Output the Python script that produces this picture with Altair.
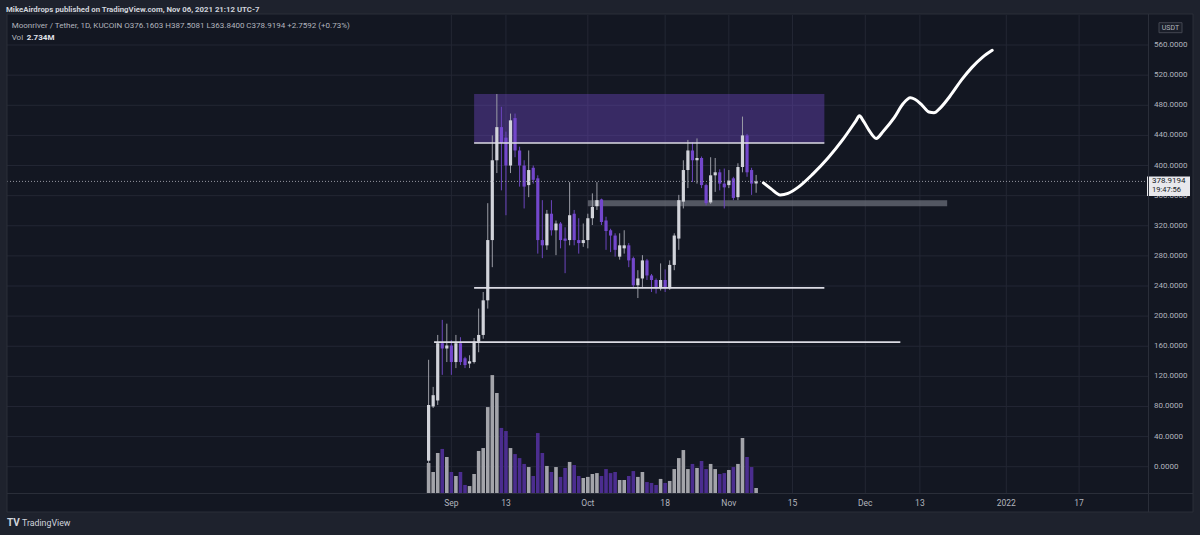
import altair as alt
import pandas as pd

# ---------------- data ----------------
# day index 0 = 2021-08-27, one candle per day up to 2021-11-07
opens = [8, 80, 88, 164, 157, 161, 139, 164, 144, 137,
         139, 166, 175, 221, 301, 407, 451, 437, 400, 463,
         420, 400, 374, 397, 383, 301, 294, 336, 314, 323,
         303, 301, 336, 301, 297, 301, 330, 346, 355, 327,
         314, 307, 279, 290, 294, 277, 241, 250, 274, 254,
         248, 237, 248, 237, 268, 303, 352, 394, 420, 407,
         410, 374, 351, 387, 391, 376, 374, 383, 358, 398,
         440, 394, 376.1603]
highs = [142, 106, 175, 195, 190, 168, 175, 172, 146, 148,
         171, 210, 232, 350, 440, 495, 478, 445, 469, 469,
         425, 407, 420, 400, 387, 354, 341, 354, 327, 325,
         318, 378, 341, 330, 323, 336, 363, 378, 356, 332,
         316, 310, 310, 314, 297, 279, 261, 281, 276, 256,
         250, 270, 262, 274, 310, 361, 407, 434, 431, 436,
         412, 376, 411, 410, 395, 396, 394, 385, 403, 465,
         442, 397, 387.5081]
lows = [5, 78, 82, 122, 139, 122, 131, 135, 131, 131,
        137, 152, 170, 210, 265, 390, 367, 334, 390, 411,
        372, 343, 358, 376, 283, 277, 288, 307, 281, 290,
        257, 294, 294, 283, 292, 290, 321, 341, 321, 288,
        285, 279, 275, 283, 265, 237, 224, 237, 248, 232,
        230, 234, 232, 235, 261, 288, 343, 370, 378, 376,
        370, 347, 349, 365, 367, 343, 370, 354, 354, 391,
        385, 361, 363.84]
closes = [82, 95, 164, 157, 161, 139, 164, 139, 135, 140,
          166, 175, 221, 301, 407, 451, 430, 400, 460, 420,
          400, 372, 394, 381, 301, 294, 336, 314, 323, 301,
          300, 334, 301, 297, 301, 330, 345, 354, 325, 313,
          307, 288, 294, 294, 274, 241, 250, 274, 254, 248,
          237, 248, 237, 268, 307, 354, 394, 420, 407, 410,
          374, 350, 387, 391, 376, 371, 380, 357, 398, 440,
          391, 376, 378.9194]
volumes_m = [16.4, 11.5, 21.9, 24.1, 19.7, 11.5, 9.3, 11.5, 4.4, 3.8,
             10.4, 23.0, 24.6, 47.0, 64.5, 54.7, 35.6, 33.9, 24.6, 21.3,
             19.1, 15.9, 14.2, 9.3, 32.8, 21.9, 14.8, 11.5, 14.2, 8.8,
             13.7, 17.0, 15.3, 9.3, 8.2, 8.8, 10.4, 10.9, 9.3, 13.1,
             10.9, 11.5, 7.1, 7.1, 9.3, 12.0, 8.8, 11.5, 6.0, 5.5,
             4.4, 7.7, 5.5, 6.6, 13.1, 19.1, 23.5, 13.1, 15.9, 13.7,
             17.5, 13.1, 15.9, 13.1, 10.4, 10.9, 12.6, 14.2, 15.9, 30.1,
             19.7, 14.2, 2.734]

tick_days = [5, 17, 35, 52, 66, 80, 96, 108, 127, 143]
tick_labels = ["Sep", "13", "Oct", "18", "Nov", "15", "Dec", "13", "2022", "17"]
price_ticks = [0, 40, 80, 120, 160, 200, 240, 280, 320, 360, 400, 440, 480, 520, 560]

zone_days = [10, 87]
zone_prices = [430, 495]
hline_prices = [430, 237.5, 165.5]
hline_start = [10, 10, 1.2]
hline_end = [87, 87, 103.7]
band_days = [35, 114]
band_prices = [346, 354]

path_days = [73.6, 75.3, 77.3, 79.0, 81.2, 84.5, 87.8, 91.0, 93.9, 94.7, 95.6,
             96.9, 98.4, 100.0, 102.4, 104.3, 105.9, 106.9, 108.5, 110.0, 111.1,
             112.4, 114.6, 117.2, 119.4, 121.8, 123.9]
path_prices = [377, 369, 361, 363, 371, 389, 410, 434, 459, 466, 459,
               446, 436, 446, 464, 482, 490, 488, 480, 471, 470,
               476, 492, 514, 530, 544, 553]

last_price = 378.9194

# ---------------- styling ----------------
W, H = 1141, 478
BG = "#131722"
OUTER = "#1e222d"
UP = "#d1d3da"
DOWN = "#7347cc"
UP_WICK = "#9a9ca5"
DOWN_WICK = "#6b45bd"
VOL_UP = "#a3a4aa"
VOL_DOWN = "#4b2d8f"
GRID = "#232734"
TXT = "#b2b5be"
FONT = "Roboto"

xs = alt.Scale(domain=[-91.59, 157.05], nice=False, zero=False)
ys = alt.Scale(domain=[-34.9, 599.9], nice=False, zero=False)
vs = alt.Scale(domain=[0, 261.5], nice=False, zero=False)

df = pd.DataFrame({
    "day": list(range(len(opens))),
    "open": opens, "high": highs, "low": lows, "close": closes,
    "vol": volumes_m,
})
up_cond = "datum.close >= datum.open"
one = pd.DataFrame({"a": [0]})


def X(field):
    return alt.X(field, scale=xs, axis=None)


def Y(field):
    return alt.Y(field, scale=ys, axis=None)


# grid + axis labels drawn as marks on the data scales
xt = pd.DataFrame({"day": tick_days, "lab": tick_labels})
yt = pd.DataFrame({"p": price_ticks, "lab": [f"{v:.4f}" for v in price_ticks]})

vgrid = alt.Chart(xt).mark_rule(color=GRID, strokeWidth=1).encode(
    x=X("day:Q"), y=alt.value(0), y2=alt.value(H))
hgrid = alt.Chart(yt).mark_rule(color=GRID, strokeWidth=1).encode(
    y=Y("p:Q"), x=alt.value(0), x2=alt.value(W))
xlabels = alt.Chart(xt).mark_text(font=FONT, fontSize=8.5, color=TXT,
                                  baseline="middle", align="center").encode(
    x=X("day:Q"), y=alt.value(H + 10), text="lab:N")
ylabels = alt.Chart(yt).mark_text(font=FONT, fontSize=8, color=TXT,
                                  baseline="middle", align="left").encode(
    y=Y("p:Q"), x=alt.value(W + 6), text="lab:N")

# volume (own scale)
volume = alt.Chart(df).mark_bar(size=3.6).encode(
    x=X("day:Q"),
    y=alt.Y("vol:Q", scale=vs, axis=None),
    color=alt.condition(up_cond, alt.value(VOL_UP), alt.value(VOL_DOWN)),
)

zone = alt.Chart(pd.DataFrame({"d1": [zone_days[0]], "d2": [zone_days[1]],
                               "p1": [zone_prices[0]], "p2": [zone_prices[1]]})).mark_rect(
    color="#7048c8", opacity=0.4).encode(
    x=X("d1:Q"), x2="d2:Q", y=Y("p1:Q"), y2="p2:Q")

band = alt.Chart(pd.DataFrame({"d1": [band_days[0]], "d2": [band_days[1]],
                               "p1": [band_prices[0]], "p2": [band_prices[1]]})).mark_rect(
    color="#6a6d78", opacity=0.75).encode(
    x=X("d1:Q"), x2="d2:Q", y=Y("p1:Q"), y2="p2:Q")

wicks = alt.Chart(df).mark_rule(strokeWidth=1).encode(
    x=X("day:Q"), y=Y("low:Q"), y2="high:Q",
    color=alt.condition(up_cond, alt.value(UP_WICK), alt.value(DOWN_WICK)),
)

bodies = alt.Chart(df).mark_bar(size=3.2).encode(
    x=X("day:Q"), y=Y("open:Q"), y2="close:Q",
    color=alt.condition(up_cond, alt.value(UP), alt.value(DOWN)),
)

hlines = alt.Chart(pd.DataFrame({"p": hline_prices, "d1": hline_start, "d2": hline_end})).mark_rule(
    color="#dcdce4", strokeWidth=1.6).encode(
    x=X("d1:Q"), x2="d2:Q", y=Y("p:Q"))

lastline = alt.Chart(pd.DataFrame({"p": [last_price]})).mark_rule(
    color="#9598a1", strokeWidth=1, strokeDash=[1, 2]).encode(
    x=alt.value(0), x2=alt.value(W), y=Y("p:Q"))

path = alt.Chart(pd.DataFrame({"day": path_days, "price": path_prices,
                               "o": list(range(len(path_days)))})).mark_line(
    color="#ffffff", strokeWidth=3, interpolate="monotone", strokeCap="round",
    strokeJoin="round").encode(
    x=X("day:Q"), y=Y("price:Q"), order="o:Q")

# current price label on the axis
lp = pd.DataFrame({"p": [last_price], "top": [last_price + 6.5], "bot": [last_price - 19.5],
                   "t2": [last_price - 11.0],
                   "lab": [f"{last_price:.4f}"], "tm": ["19:47:56"]})
price_box = alt.Chart(lp).mark_rect(color="#e8e8ec").encode(
    x=alt.value(W - 1), x2=alt.value(W + 42), y=Y("top:Q"), y2="bot:Q")
price_txt = alt.Chart(lp).mark_text(align="left", baseline="middle", font=FONT,
                                    fontSize=8, color="#131722").encode(
    x=alt.value(W + 4), y=Y("p:Q"), text="lab:N")
time_txt = alt.Chart(lp).mark_text(align="left", baseline="middle", font=FONT,
                                   fontSize=7.5, color="#131722").encode(
    x=alt.value(W + 4), y=Y("t2:Q"), text="tm:N")


def rect(x1, x2, y1, y2, fill, stroke=None):
    kw = {"color": fill}
    if stroke is not None:
        kw = {"fill": fill, "stroke": stroke, "strokeWidth": 1}
    return alt.Chart(one).mark_rect(**kw).encode(
        x=alt.value(x1), x2=alt.value(x2), y=alt.value(y1), y2=alt.value(y2))


def text(x, y, s, size=8, color=TXT, weight="normal", align="left"):
    return alt.Chart(one).mark_text(align=align, baseline="middle", font=FONT,
                                    fontSize=size, color=color, fontWeight=weight).encode(
        x=alt.value(x), y=alt.value(y), text=alt.value(s))


def rule(x1, x2, y1, y2, color="#2a2e39"):
    return alt.Chart(one).mark_rule(color=color, strokeWidth=1).encode(
        x=alt.value(x1), x2=alt.value(x2), y=alt.value(y1), y2=alt.value(y2))


chrome = [
    rect(-7, 1193, -15, -1, OUTER),
    rect(-7, 1193, 497, 520, OUTER),
    rect(-7, 0, -15, 520, OUTER),
    rect(1186, 1193, -15, 520, OUTER),
    rule(0, 1186, -1, -1),
    rule(0, 1186, 497, 497),
    rule(0, 0, -1, 497),
    rule(1186, 1186, -1, 497),
    rule(W + 0.5, W + 0.5, -1, 497),
    rule(0, 1186, H + 0.5, H + 0.5),
    rect(1152, 1175, 7.7, 17.7, "#1a1e29", "#434651"),
    text(1163.5, 12.9, "USDT", size=7, align="center"),
    text(-1, -5.5, "MikeAirdrops published on TradingView.com, Nov 06, 2021 21:12 UTC-7",
         size=7.8, color="#d1d4dc", weight="bold"),
    text(4.7, 11, "Moonriver / Tether, 1D, KUCOIN  O376.1603  H387.5081  L363.8400  "
                  "C378.9194  +2.7592 (+0.73%)", size=8.0),
    text(4.7, 23.3, "Vol", size=8.0),
    text(19.7, 23.3, "2.734M", size=8.0, color="#e0e3eb", weight="bold"),
    text(0, 507.5, "TV", size=10, color="#d1d4dc", weight="bold"),
    text(15, 507.5, "TradingView", size=8.8, color="#d1d4dc"),
]

price_group = alt.layer(vgrid, hgrid, zone, band, wicks, bodies, hlines, lastline, path,
                        xlabels, ylabels, price_box, price_txt, time_txt, *chrome)

chart = alt.layer(price_group, volume).resolve_scale(y="independent").properties(
    width=W, height=H,
    autosize=alt.AutoSizeParams(type="none"),
    padding={"left": 7, "top": 15, "right": 52, "bottom": 42},
    background=BG,
).configure_view(stroke=None)

chart.save("out.html", embed_options={"renderer": "svg", "actions": False})
